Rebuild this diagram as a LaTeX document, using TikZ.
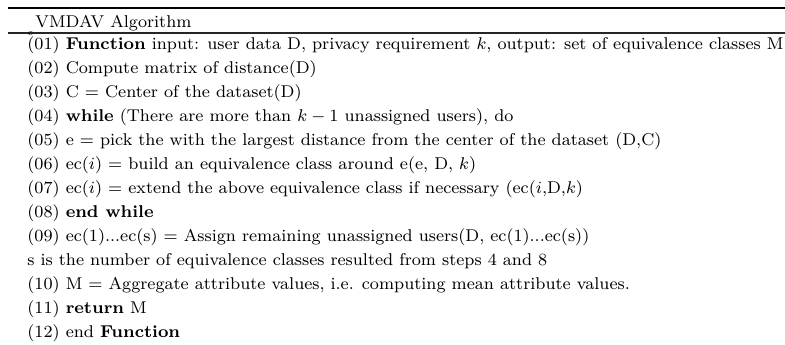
\documentclass[tikz,border=0pt]{standalone}
\newcommand\algsize{\fontsize{8}{10}\selectfont}
\newcommand\firststep{(01) \textbf{Function} input: user data D, privacy requirement $k$, output: set of equivalence classes M}
\newsavebox\widestbox
\newlength\widestlen
\begin{document}
\sbox\widestbox{\algsize\firststep}%
\setlength\widestlen{\wd\widestbox}%
\pgfmathsetmacro\txtscale{758.84/\widestlen}%
\begin{tikzpicture}[x=1bp, y=-1bp,
  algline/.style={anchor=base west, inner sep=0pt, font=\algsize, scale=\txtscale},
  toprule/.style={line width=1.7bp, draw=black},
  midrule/.style={line width=1.3bp, draw=black!85}]
  \useasboundingbox (0,0) rectangle (785,344);
  % table rules
  \draw[toprule] (8,8) -- (785,8);
  \draw[midrule] (8,33) -- (785,33);
  % caption row
  \node[algline] (head) at (35,27) {VMDAV Algorithm};
  \node[anchor=base west, inner sep=0pt, font=\fontsize{4}{5}\selectfont, scale=\txtscale] (colspec) at (27.5,35.2) {c};
  % algorithm steps
  \def\lh{24.05}
  \node[algline] (s01) at (27,49.5) {\firststep};
  \node[algline] (s02) at (27,49+1*\lh) {(02) Compute matrix of distance(D)};
  \node[algline] (s03) at (27,49+2*\lh) {(03) C = Center of the dataset(D)};
  \node[algline] (s04) at (27,49+3*\lh) {(04) \textbf{while} (There are more than $k-1$ unassigned users), do};
  \node[algline] (s05) at (27,49+4*\lh) {(05) e = pick the with the largest distance from the center of the dataset (D,C)};
  \node[algline] (s06) at (27,49+5*\lh) {(06) ec($i$) = build an equivalence class around e(e, D, $k$)};
  \node[algline] (s07) at (27,49+6*\lh) {(07) ec($i$) = extend the above equivalence class if necessary (ec($i$,D,$k$)};
  \node[algline] (s08) at (27,49+7*\lh) {(08) \textbf{end while}};
  \node[algline] (s09) at (27,49+8*\lh) {(09) ec(1)...ec(s) = Assign remaining unassigned users(D, ec(1)...ec(s))};
  \node[algline] (note) at (27,49+9*\lh) {s is the number of equivalence classes resulted from steps 4 and 8};
  \node[algline] (s10) at (27,49+10*\lh) {(10) M = Aggregate attribute values, i.e. computing mean attribute values.};
  \node[algline] (s11) at (27,49+11*\lh) {(11) \textbf{return} M};
  \node[algline] (s12) at (27,49+12*\lh) {(12) end \textbf{Function}};
\end{tikzpicture}
\end{document}
